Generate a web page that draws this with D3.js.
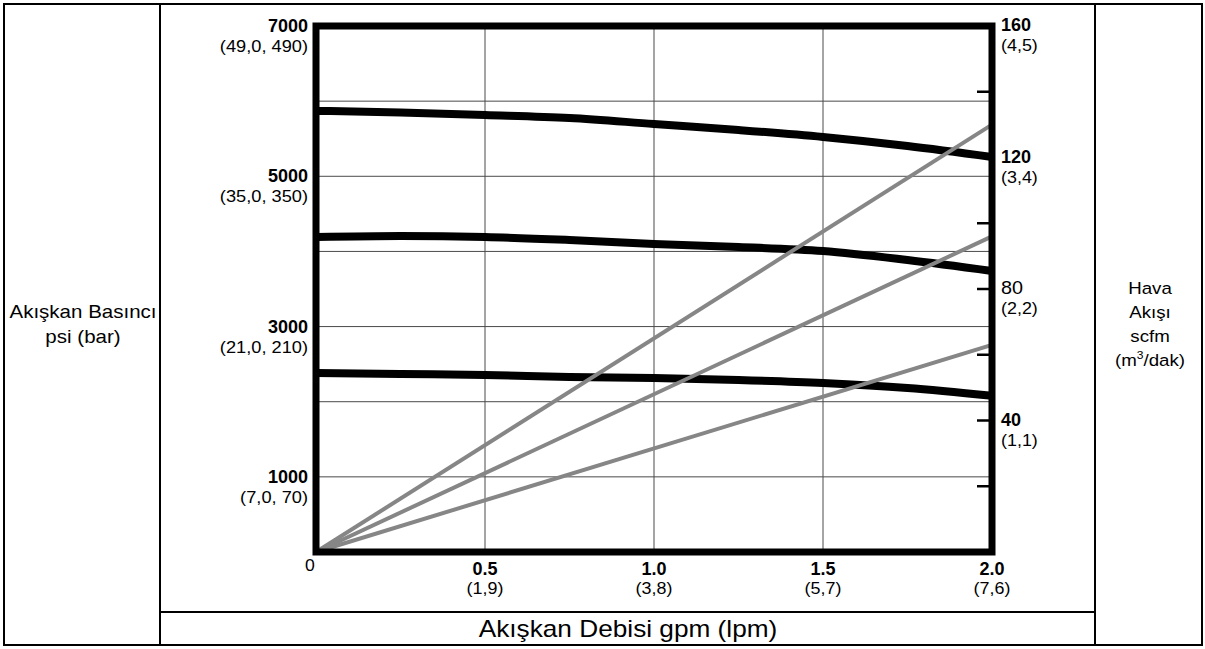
<!DOCTYPE html>
<html><head><meta charset="utf-8">
<script src="https://cdn.jsdelivr.net/npm/d3@7"></script>
<style>body{margin:0;background:#fff}svg{display:block}text{font-family:"Liberation Sans",Arial,Helvetica,sans-serif;fill:#000}</style>
</head><body><svg id="c" width="1205" height="649"></svg>
<script>
// flow (gpm) sample points
const flowGpm = [0, 0.25, 0.5, 0.75, 1.0, 1.25, 1.5, 1.75, 2.0];
// fluid pressure curves (psi)
const pressureHigh = [5870, 5850, 5816, 5776, 5696, 5616, 5523, 5403, 5257];
const pressureMid  = [4192, 4205, 4192, 4152, 4099, 4059, 4006, 3886, 3740];
const pressureLow  = [2382, 2369, 2356, 2329, 2316, 2289, 2249, 2183, 2080];
// air flow lines (scfm) at 0 and 2.0 gpm
const airFlowX = [0, 2.0];
const airHigh = [0, 130];
const airMid  = [0, 96];
const airLow  = [0, 63];
// tick labels
const psiTicks = [7000, 5000, 3000, 1000];
const psiSub = ["(49,0, 490)", "(35,0, 350)", "(21,0, 210)", "(7,0, 70)"];
const psiGrid = [1000, 2000, 3000, 4000, 5000, 6000];
const gpmTicks = [0.5, 1.0, 1.5, 2.0];
const gpmLabels = ["0.5", "1.0", "1.5", "2.0"];
const gpmSub = ["(1,9)", "(3,8)", "(5,7)", "(7,6)"];
const scfmTicks = [160, 120, 80, 40];
const scfmBold = [true, true, false, true];
const scfmSub = ["(4,5)", "(3,4)", "(2,2)", "(1,1)"];
const scfmMinor = [20, 40, 60, 80, 100, 120, 140];

const svg = d3.select("#c");
const x = d3.scaleLinear().domain([0, 2]).range([316, 992]);
const y = d3.scaleLinear().domain([0, 7000]).range([552, 26]);
const yR = d3.scaleLinear().domain([0, 160]).range([552, 26]);

function txt(px, py, str, o) {
  o = o || {};
  return svg.append("text")
    .attr("transform", `translate(${px},${py}) scale(${o.sx || 1},1)`)
    .attr("text-anchor", o.anchor || "start")
    .attr("font-size", o.size || 16)
    .attr("font-weight", o.bold ? "bold" : "normal")
    .text(str);
}

// outer table frame
svg.append("rect").attr("x", 4).attr("y", 4).attr("width", 1198).attr("height", 641)
  .attr("fill", "none").attr("stroke", "#000").attr("stroke-width", 2);
svg.append("line").attr("x1", 160).attr("x2", 160).attr("y1", 4).attr("y2", 645).attr("stroke", "#000").attr("stroke-width", 2);
svg.append("line").attr("x1", 1095).attr("x2", 1095).attr("y1", 4).attr("y2", 645).attr("stroke", "#000").attr("stroke-width", 2);
svg.append("line").attr("x1", 160).attr("x2", 1095).attr("y1", 612).attr("y2", 612).attr("stroke", "#000").attr("stroke-width", 2);

// gridlines
const g = svg.append("g");
g.selectAll(".hg").data(psiGrid).join("line")
  .attr("x1", x(0)).attr("x2", x(2)).attr("y1", d => y(d)).attr("y2", d => y(d))
  .attr("stroke", "#4a4a4a").attr("stroke-width", 1);
g.selectAll(".vg").data(gpmTicks.slice(0, 3)).join("line")
  .attr("y1", y(0)).attr("y2", y(7000)).attr("x1", d => x(d)).attr("x2", d => x(d))
  .attr("stroke", "#4a4a4a").attr("stroke-width", 1);

// right axis minor ticks
g.selectAll(".rt").data(scfmMinor).join("line")
  .attr("x1", x(2) - 15).attr("x2", x(2)).attr("y1", d => yR(d)).attr("y2", d => yR(d))
  .attr("stroke", "#000").attr("stroke-width", 2.5);

// pressure curves
const line = d3.line().x((d, i) => x(flowGpm[i])).y(d => y(d)).curve(d3.curveMonotoneX);
[pressureHigh, pressureMid, pressureLow].forEach(s => {
  svg.append("path").attr("d", line(s)).attr("fill", "none").attr("stroke", "#000")
    .attr("stroke-width", 8).attr("stroke-linecap", "butt");
});

// air flow lines
const aline = d3.line().x((d, i) => x(airFlowX[i])).y(d => yR(d));
[airHigh, airMid, airLow].forEach(s => {
  svg.append("path").attr("d", aline(s)).attr("fill", "none").attr("stroke", "#868686")
    .attr("stroke-width", 4);
});

// plot frame
svg.append("rect").attr("x", x(0)).attr("y", y(7000)).attr("width", x(2) - x(0)).attr("height", y(0) - y(7000))
  .attr("fill", "none").attr("stroke", "#000").attr("stroke-width", 7);

// left tick labels
psiTicks.forEach((v, i) => {
  txt(308, y(v) + 6, v, {anchor: "end", size: 18, bold: true});
  txt(308, y(v) + 26, psiSub[i], {anchor: "end", size: 16, sx: 1.14});
});
txt(310, 571, "0", {anchor: "middle", size: 16, sx: 1.1});

// bottom tick labels
gpmTicks.forEach((v, i) => {
  txt(x(v), 575, gpmLabels[i], {anchor: "middle", size: 18, bold: true});
  txt(x(v), 594, gpmSub[i], {anchor: "middle", size: 16, sx: 1.12});
});

// right tick labels
scfmTicks.forEach((v, i) => {
  txt(1001, yR(v) + 5, v, {size: 18, bold: scfmBold[i], sx: scfmBold[i] ? 1 : 1.1});
  txt(1001, yR(v) + 25, scfmSub[i], {size: 16, sx: 1.12});
});

// titles
txt(83, 318, "Akışkan Basıncı", {anchor: "middle", size: 18, sx: 1.14});
txt(83, 343, "psi (bar)", {anchor: "middle", size: 18, sx: 1.14});

txt(628, 637, "Akışkan Debisi gpm (lpm)", {anchor: "middle", size: 23, sx: 1.14});

txt(1150, 294, "Hava", {anchor: "middle", size: 17, sx: 1.1});
txt(1150, 318, "Akışı", {anchor: "middle", size: 17, sx: 1.1});
txt(1150, 342, "scfm", {anchor: "middle", size: 17, sx: 1.1});
const t4 = txt(1150, 366, "", {anchor: "middle", size: 17, sx: 1.1});
t4.append("tspan").text("(m");
t4.append("tspan").attr("dy", -7).attr("font-size", 11).text("3");
t4.append("tspan").attr("dy", 7).text("/dak)");
</script></body></html>
